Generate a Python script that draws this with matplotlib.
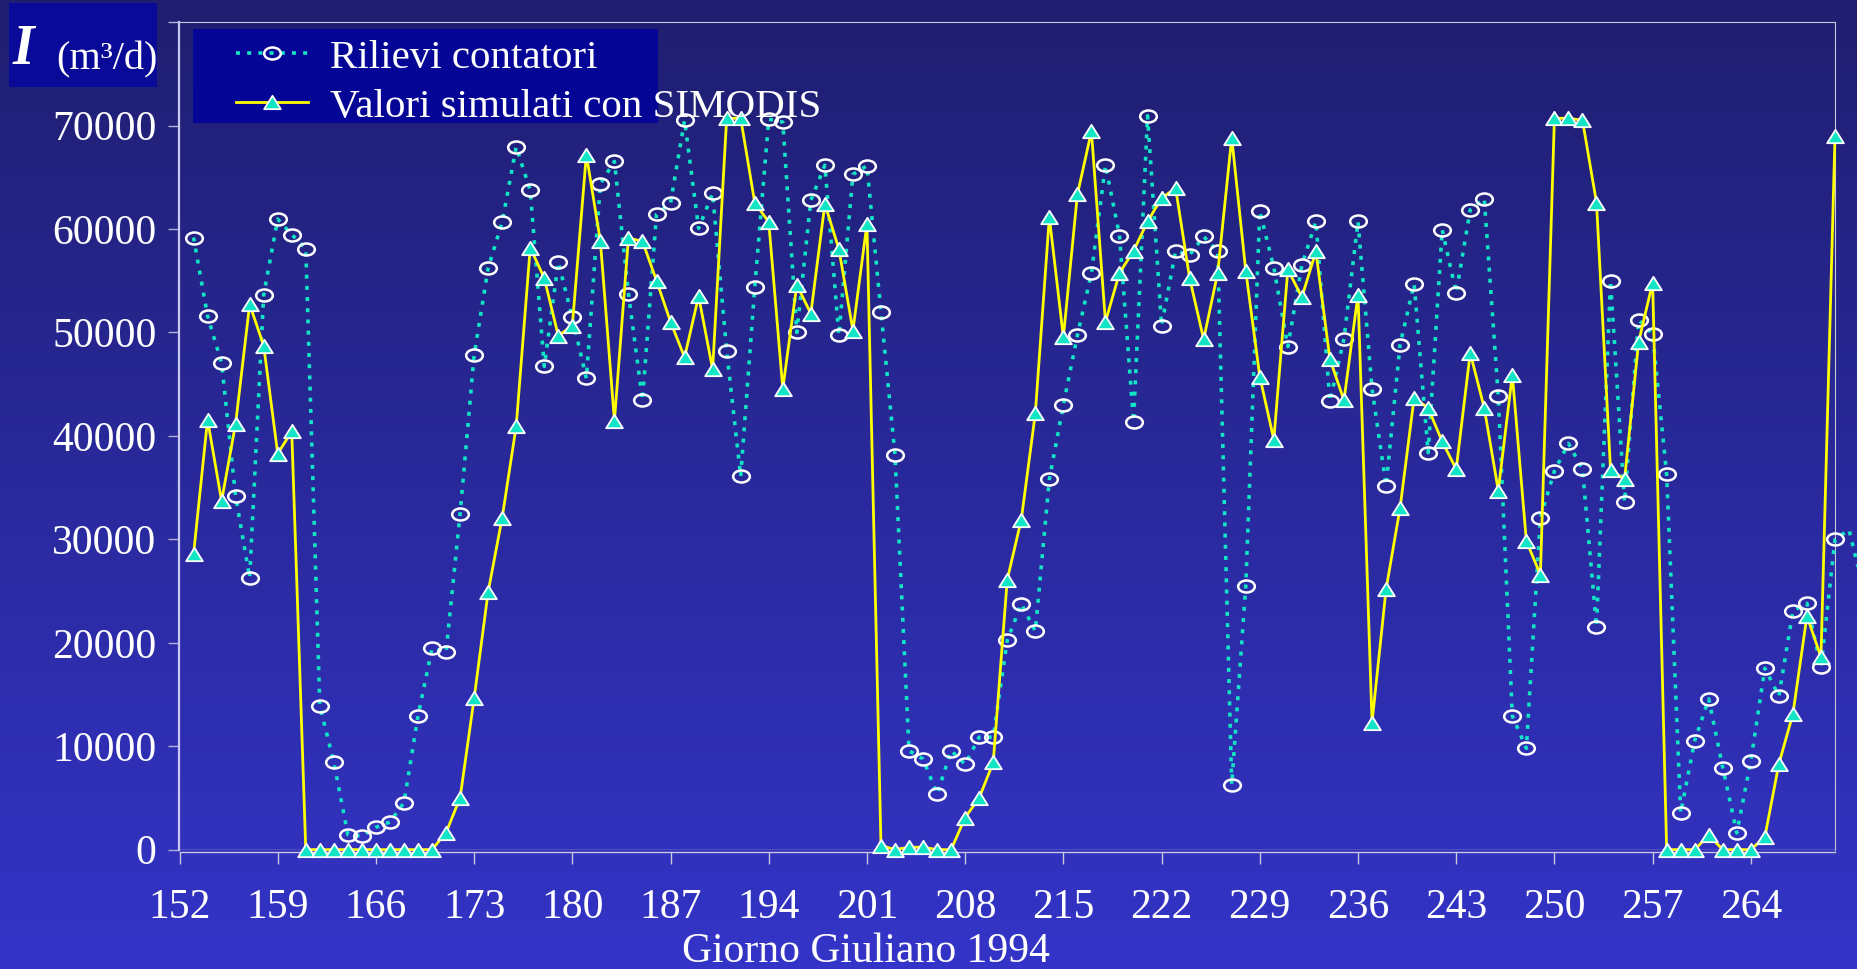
import numpy as np
import matplotlib
matplotlib.use("Agg")
import matplotlib.pyplot as plt
from matplotlib.path import Path
from matplotlib.patches import Rectangle
from matplotlib.lines import Line2D

# giorni giuliani 1994 e portate (m3/d)
days = list(range(153, 271))
rilievi = [59180, 51590, 47050, 34160, 26290, 53650, 60960, 59470, 58110, 13920,
           8430, 1450, 1310, 2160, 2670, 4550, 12930, 19450, 19120, 32470,
           47800, 56230, 60680, 67950, 63730, 46720, 56790, 51450, 45550, 64390,
           66540, 53750, 43440, 61430, 62510, 70520, 60070, 63450, 48220, 36080,
           54360, 70620, 70340, 50000, 62790, 66170, 49720, 65280, 66120, 51970,
           38140, 9560, 8760, 5380, 9560, 8250, 10870, 10870, 20240, 23760,
           21130, 35800, 43020, 49720, 55760, 66170, 59370, 41380, 70950, 50660,
           57870, 57500, 59280, 57870, 6280, 25490, 61720, 56280, 48640, 56510,
           60730, 43350, 49390, 60730, 44560, 35190, 48830, 54690, 38380, 59930,
           53840, 61860, 62930, 43810, 12930, 9790, 32100, 36600, 39270, 36790,
           21560, 55010, 33600, 51220, 49860, 36270, 3540, 10540, 14570, 7920,
           1610, 8580, 17530, 14850, 23060, 23810, 17670, 29990]
# the measured series runs on past the plot frame
tail_days = [271, 272]
rilievi_tail = [30930, 25300]
simodis = [28540, 41570, 33700, 41190, 52720, 48730, 38280, 40440, 0, 0,
           0, 0, 0, 0, 0, 0, 0, 0, 1640, 5010,
           14620, 24930, 32100, 40960, 58200, 55250, 49670, 50660, 67200, 58810,
           41470, 59140, 58810, 55010, 51030, 47610, 53510, 46440, 70710, 70710,
           62560, 60680, 44560, 54590, 51830, 62420, 58060, 50190, 60500, 390,
           0, 230, 230, 0, 0, 3100, 5000, 8430, 26100, 31910,
           42170, 61150, 49530, 63350, 69450, 51030, 55760, 57870, 60730, 62980,
           63960, 55250, 49340, 55760, 68840, 55950, 45740, 39640, 56090, 53420,
           57830, 47420, 43440, 53650, 12280, 25160, 33040, 43670, 42690, 39460,
           36790, 48030, 42690, 34720, 45920, 29850, 26570, 70710, 70710, 70520,
           62560, 36740, 35800, 49060, 54830, 0, 0, 0, 1390, 0,
           0, 0, 1220, 8290, 13120, 22590, 18600, 69030]
xticks = list(range(152, 265, 7))
yticks = list(range(0, 80001, 10000))

SERIF = ["Liberation Serif", "DejaVu Serif"]
plt.rcParams["font.family"] = SERIF
CYAN = "#12E4C6"
W, H = 1858, 969

fig = plt.figure(figsize=(W / 100, H / 100), dpi=100)

# vertical blue gradient behind everything
bg = fig.add_axes([0, 0, 1, 1], zorder=-10)
top = np.array([31, 30, 112]) / 255
bot = np.array([52, 52, 200]) / 255
t = np.linspace(0, 1, 256)[:, None]
grad = top + (bot - top) * t
bg.imshow(grad[:, None, :], aspect="auto", extent=[0, 1, 0, 1])
bg.axis("off")

ax = fig.add_axes([179.5 / W, 1 - 849.6 / H, (1835 - 179.5) / W, (849.6 - 22.2) / H])
ax.patch.set_visible(False)

# slightly wide markers
uc = Path.unit_circle()
oval = Path(uc.vertices * np.array([1.0, 0.72]), uc.codes)
tri = Path([(0, 1), (-1.25, -1), (1.25, -1), (0, 1)],
           [Path.MOVETO, Path.LINETO, Path.LINETO, Path.CLOSEPOLY])

dots = dict(color=CYAN, lw=2.6, linestyle=(0, (1.1, 2.0)), marker=oval, ms=12,
            mfc="none", mec="white", mew=1.8)
solid = dict(color="#FFFF00", lw=2.0, marker=tri, ms=12, mfc=CYAN, mec="white",
             mew=1.3)

ax.plot(days + tail_days, rilievi + rilievi_tail, markevery=slice(0, len(days)),
        clip_on=False, zorder=3, **dots)
ax.plot(days, simodis, clip_on=False, zorder=4, **solid)

ax.set_xlim(152, 270)
ax.set_ylim(0, 80000)
ax.set_xticks(xticks)
ax.set_xticklabels([str(v) for v in xticks])
ax.set_yticks(yticks)
ax.set_yticklabels([str(v) if v < 80000 else "" for v in yticks])
ax.tick_params(axis="x", direction="out", length=8.6, width=1.0, color="#C8C8E0",
               pad=18, labelsize=30, labelcolor="white")
ax.tick_params(axis="y", direction="out", length=8, width=1.0, color="#B0B0D8",
               pad=8.5, labelsize=30, labelcolor="white")

ax.spines["left"].set_color("#C8C8F0")
ax.spines["left"].set_linewidth(1.6)
for s in ("top", "right"):
    ax.spines[s].set_color("#C8C8D8")
    ax.spines[s].set_linewidth(0.8)
ax.spines["bottom"].set_color("#C8C8E0")
ax.spines["bottom"].set_linewidth(1.0)
ax.spines["bottom"].set_position(("outward", 1.5))
ax.axhline(0, color="#C8C8E0", lw=1.0, zorder=2)

# legend on its own dark box (the long label runs past the box)
fig.add_artist(Rectangle((193 / W, 1 - 123 / H), (658 - 193) / W, (123 - 29) / H,
                         transform=fig.transFigure, facecolor="#060696",
                         edgecolor="none", zorder=5))
handles = [Line2D([], [], **dots), Line2D([], [], **solid)]
leg = fig.legend(handles, ["Rilievi contatori", "Valori simulati con SIMODIS"],
                 loc="upper left", bbox_to_anchor=(236 / W, 1 - 39 / H),
                 bbox_transform=fig.transFigure, frameon=False, numpoints=1,
                 handlelength=1.75, handletextpad=0.55, labelspacing=0.28,
                 borderpad=0, borderaxespad=0,
                 prop={"family": SERIF, "size": 29.5})
leg.set_zorder(6)
for txt in leg.get_texts():
    txt.set_color("white")

# unit label on the y axis
fig.add_artist(Rectangle((9 / W, 1 - 87 / H), 148 / W, 84 / H,
                         transform=fig.transFigure, facecolor="#0A0A98",
                         edgecolor="none", zorder=5))
fig.text(13 / W, 1 - 64 / H, "I", color="white", fontsize=40, fontweight="bold",
         fontstyle="italic", va="baseline", zorder=6)
fig.text(56 / W, 1 - 69 / H, "(m³/d)", color="white", fontsize=29,
         va="baseline", zorder=6)

fig.text(866 / W, 1 - 952 / H, "Giorno Giuliano 1994", color="white",
         fontsize=30, ha="center", va="center")

fig.savefig("out.png", dpi=100)
